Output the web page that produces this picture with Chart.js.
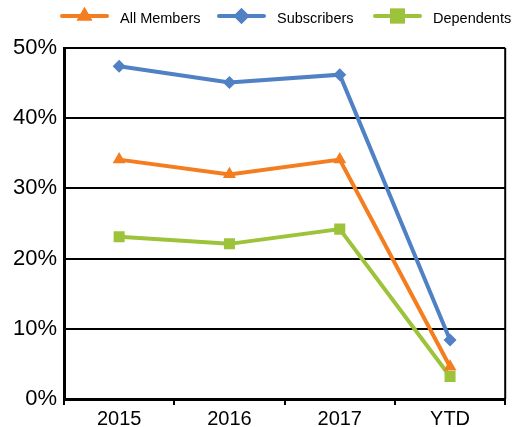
<!DOCTYPE html>
<html>
<head>
<meta charset="utf-8">
<script src="https://cdn.jsdelivr.net/npm/chart.js@4/dist/chart.umd.min.js"></script>
<style>
  html, body { margin: 0; padding: 0; background: #fff; }
  #wrap { width: 513px; height: 427px; position: relative; }
</style>
</head>
<body>
<div id="wrap"><canvas id="rateChart"></canvas></div>
<script>
  // categories and values
  const categories = ['2015', '2016', '2017', 'YTD'];
  const allMembers = [34.1, 32.0, 34.1, 4.6];
  const subscribers = [47.4, 45.1, 46.2, 8.4];
  const dependents = [23.1, 22.1, 24.2, 3.2];
  const yTicks = [0, 10, 20, 30, 40, 50];

  const ORANGE = '#f47d20';
  const BLUE = '#4f81c4';
  const GREEN = '#9cc33a';

  const series = [
    { label: 'All Members', data: allMembers, color: ORANGE, style: 'triangle', r: 7.5, lr: 9 },
    { label: 'Subscribers', data: subscribers, color: BLUE, style: 'rectRot', r: 6.5, lr: 8 },
    { label: 'Dependents', data: dependents, color: GREEN, style: 'rect', r: 7.8, lr: 10.5 }
  ];

  // custom legend: line + marker, like the office chart
  const legendPlugin = {
    id: 'lineLegend',
    afterDraw(chart) {
      const c = chart.ctx;
      const xs = [62, 219, 375];
      c.save();
      c.font = '14.5px "Liberation Sans", Arial, sans-serif';
      c.textBaseline = 'middle';
      series.forEach((s, i) => {
        const x0 = xs[i], y = 16;
        c.strokeStyle = s.color;
        c.lineWidth = 4;
        c.lineCap = 'round';
        c.beginPath();
        c.moveTo(x0, y);
        c.lineTo(x0 + 45, y);
        c.stroke();
        c.fillStyle = s.color;
        c.beginPath();
        Chart.helpers.drawPoint(c, { pointStyle: s.style, radius: s.lr, borderWidth: 0 }, x0 + 22.5, y);
        c.fill();
        c.fillStyle = '#000';
        c.fillText(s.label, x0 + 58, y + 3);
      });
      c.restore();
    }
  };

  // right border of the plot box
  const boxPlugin = {
    id: 'plotBox',
    beforeDatasetsDraw(chart) {
      const a = chart.chartArea;
      const c = chart.ctx;
      c.save();
      c.strokeStyle = '#000';
      c.lineWidth = 2;
      c.beginPath();
      c.moveTo(a.right, a.top);
      c.lineTo(a.right, a.bottom);
      c.stroke();
      c.restore();
    }
  };

  const ctx = document.getElementById('rateChart').getContext('2d');

  new Chart(ctx, {
    type: 'line',
    data: {
      labels: categories,
      datasets: series.map(s => ({
        label: s.label,
        data: s.data,
        borderColor: s.color,
        backgroundColor: s.color,
        borderWidth: 4,
        pointStyle: s.style,
        pointRadius: s.r,
        pointBorderWidth: 0,
        pointBackgroundColor: s.color,
        tension: 0
      }))
    },
    options: {
      responsive: true,
      maintainAspectRatio: false,
      animation: false,
      layout: { padding: { top: 48, right: 7, left: 0, bottom: 0 } },
      plugins: {
        legend: { display: false },
        tooltip: { enabled: false }
      },
      scales: {
        x: {
          offset: true,
          grid: {
            offset: true,
            drawOnChartArea: false,
            color: '#000',
            lineWidth: 2,
            tickLength: 6
          },
          border: { color: '#000', width: 3 },
          ticks: {
            color: '#000',
            font: { family: '"Liberation Sans", Arial, sans-serif', size: 20 },
            padding: 2
          },
          afterFit(scale) { scale.height = 28; }
        },
        y: {
          min: 0,
          max: 50,
          afterBuildTicks(scale) { scale.ticks = yTicks.map(v => ({ value: v })); },
          grid: { color: '#000', lineWidth: 2, drawTicks: false },
          border: { color: '#000', width: 3 },
          ticks: {
            color: '#000',
            padding: 7,
            font: { family: '"Liberation Sans", Arial, sans-serif', size: 22 },
            callback: v => v + '%'
          },
          afterFit(scale) { scale.width = 64; }
        }
      }
    },
    plugins: [legendPlugin, boxPlugin]
  });
</script>
</body>
</html>
